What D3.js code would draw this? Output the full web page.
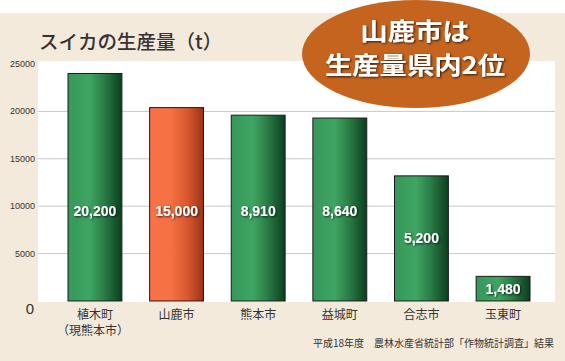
<!DOCTYPE html>
<html>
<head>
<meta charset="utf-8">
<script src="https://cdn.jsdelivr.net/npm/d3@7"></script>
<style>
  body { margin: 0; background: #fff; }
  svg { display: block; }
</style>
</head>
<body>
<div id="chart"></div>
<script>
// data
const categories = [['植木町', '（現熊本市）'], ['山鹿市'], ['熊本市'], ['益城町'], ['合志市'], ['玉東町']];
const barHeights = [24000, 20400, 19600, 19300, 13200, 2600];   // drawn heights on the axis
const labelValues = [20200, 15000, 8910, 8640, 5200, 1480];     // printed labels
const highlight = '山鹿市';
const yTicks = [5000, 10000, 15000, 20000, 25000];
const calloutLines = ['山鹿市は', '生産量県内2位'];

const width = 565, height = 361;
const jp = '"Noto Sans CJK JP", "Noto Sans", sans-serif';
const num = '"Liberation Sans", Arial, sans-serif';

const svg = d3.select('#chart').append('svg')
  .attr('width', width)
  .attr('height', height);

const defs = svg.append('defs');
const grad = (id, stops) => {
  const g = defs.append('linearGradient').attr('id', id)
    .attr('x1', '0%').attr('x2', '100%').attr('y1', '0%').attr('y2', '0%');
  stops.forEach(([o, c]) => g.append('stop').attr('offset', o).attr('stop-color', c));
};
grad('green', [['0%', '#36975a'], ['40%', '#3fa563'], ['65%', '#2b8048'], ['100%', '#0c3f1f']]);
grad('orange', [['0%', '#f87245'], ['40%', '#f57043'], ['70%', '#d9582f'], ['100%', '#9c3216']]);

const shadow = defs.append('filter').attr('id', 'shadow')
  .attr('x', '-20%').attr('y', '-20%').attr('width', '140%').attr('height', '140%');
shadow.append('feDropShadow').attr('dx', 1).attr('dy', 1).attr('stdDeviation', 0.8)
  .attr('flood-color', '#000').attr('flood-opacity', 0.75);

// background
svg.append('rect').attr('width', width).attr('height', height).attr('fill', '#f3eadb');
svg.append('rect').attr('width', width).attr('height', 13).attr('fill', '#fff');

const plot = { left: 38, right: 555, top: 61, bottom: 302 };
svg.append('rect')
  .attr('x', plot.left).attr('y', plot.top)
  .attr('width', plot.right - plot.left).attr('height', plot.bottom - plot.top)
  .attr('fill', '#fff');

const x = d3.scaleBand()
  .domain(categories.map(d => d[0]))
  .range([68, 530])
  .paddingInner(0.34)
  .paddingOuter(0);

const y = d3.scaleLinear()
  .domain([0, 25000])
  .range([301, 64]);

// gridlines
svg.append('g')
  .selectAll('line')
  .data(yTicks.slice(0, -1))
  .enter()
  .append('line')
  .attr('x1', plot.left).attr('x2', plot.right)
  .attr('y1', d => y(d)).attr('y2', d => y(d))
  .attr('stroke', '#c8c8c8').attr('stroke-width', 1);

// y axis labels
svg.append('g')
  .selectAll('text')
  .data(yTicks)
  .enter()
  .append('text')
  .attr('x', 35)
  .attr('y', d => y(d) + 3)
  .attr('text-anchor', 'end')
  .style('font-family', num)
  .style('font-size', '9px')
  .style('fill', '#333')
  .text(d => d);

svg.append('text')
  .attr('x', 34).attr('y', y(0) + 13)
  .attr('text-anchor', 'end')
  .style('font-family', num)
  .style('font-size', '15px')
  .style('fill', '#333')
  .text('0');

// bars
const rows = categories.map((c, i) => ({ cat: c, h: barHeights[i], label: labelValues[i] }));

svg.append('g')
  .selectAll('rect')
  .data(rows)
  .enter()
  .append('rect')
  .attr('x', d => x(d.cat[0]))
  .attr('y', d => y(d.h))
  .attr('width', x.bandwidth())
  .attr('height', d => y(0) - y(d.h))
  .attr('fill', d => d.cat[0] === highlight ? 'url(#orange)' : 'url(#green)')
  .attr('stroke', '#1a1a1a')
  .attr('stroke-width', 1);

// value labels
svg.append('g')
  .selectAll('text')
  .data(rows)
  .enter()
  .append('text')
  .attr('x', d => x(d.cat[0]) + x.bandwidth() / 2)
  .attr('y', d => Math.max((y(d.h) + y(0)) / 2, y(9500)) + 5)
  .attr('text-anchor', 'middle')
  .attr('filter', 'url(#shadow)')
  .style('font-family', num)
  .style('font-weight', 'bold')
  .style('font-size', '14px')
  .style('fill', '#fff')
  .text(d => d3.format(',')(d.label));

// category labels
const catG = svg.append('g');
rows.forEach(d => {
  d.cat.forEach((line, j) => {
    catG.append('text')
      .attr('x', x(d.cat[0]) + x.bandwidth() / 2 + (j > 0 ? -2 : 0))
      .attr('y', 319 + j * 16)
      .attr('text-anchor', 'middle')
      .style('font-family', jp)
      .style('font-size', '12px')
      .style('fill', '#333')
      .text(line);
  });
});

// title
svg.append('text')
  .attr('x', 39).attr('y', 49)
  .style('font-family', jp)
  .style('font-weight', 500)
  .style('font-size', '19.5px')
  .style('fill', '#333')
  .text('スイカの生産量（t）');

// callout
svg.append('ellipse')
  .attr('cx', 416).attr('cy', 54)
  .attr('rx', 114).attr('ry', 54)
  .attr('fill', '#c4641f');

// wider letterforms like the rounded gothic in the original
const calloutG = svg.append('g')
  .attr('transform', 'translate(415,0) scale(1.14,1)');

calloutG.selectAll('text')
  .data(calloutLines)
  .enter()
  .append('text')
  .attr('x', 0)
  .attr('y', (d, i) => 40 + i * 34)
  .attr('text-anchor', 'middle')
  .attr('filter', 'url(#shadow)')
  .style('font-family', jp)
  .style('font-weight', 'bold')
  .style('font-size', '24px')
  .style('fill', '#fff')
  .text(d => d);

// source
svg.append('text')
  .attr('x', 554).attr('y', 347)
  .attr('text-anchor', 'end')
  .style('font-family', jp)
  .style('font-size', '10px')
  .style('fill', '#333')
  .text('平成18年度　農林水産省統計部「作物統計調査」結果');
</script>
</body>
</html>
